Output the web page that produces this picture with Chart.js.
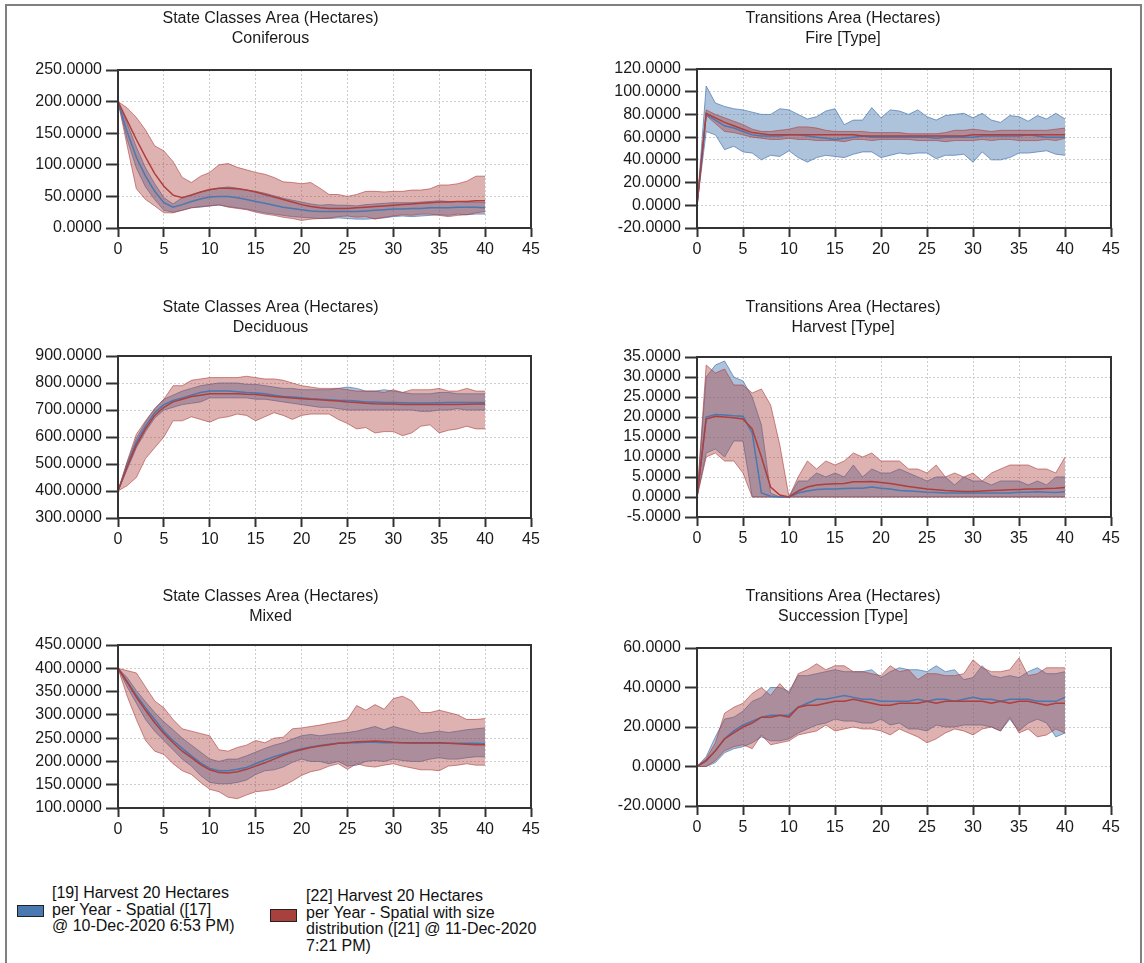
<!DOCTYPE html>
<html><head><meta charset="utf-8">
<script src="https://cdn.jsdelivr.net/npm/chart.js@4.4.0/dist/chart.umd.min.js"></script>
<style>
html,body{margin:0;padding:0;background:#fff;width:1144px;height:963px;overflow:hidden;font-family:"Liberation Sans",Arial,sans-serif;}
#frame{position:absolute;left:5px;top:4px;width:1137px;height:1000px;border:2px solid #808080;box-sizing:border-box;}
canvas{position:absolute;}
.leg{position:absolute;font-size:16px;line-height:16.5px;color:#111;white-space:nowrap;}
.box{position:absolute;border:1px solid #222;box-sizing:border-box;}
</style></head><body>
<div id="frame"></div>
<div id="charts"></div>
<div class="box" id="box0"></div><div class="leg" id="leg0"></div>
<div class="box" id="box1"></div><div class="leg" id="leg1"></div>
<script>
const years = [0,1,2,3,4,5,6,7,8,9,10,11,12,13,14,15,16,17,18,19,20,21,22,23,24,25,26,27,28,29,30,31,32,33,34,35,36,37,38,39,40];

const seriesLegendLines = [
  ['[19] Harvest 20 Hectares', 'per Year - Spatial ([17]', '@ 10-Dec-2020 6:53 PM)'],
  ['[22] Harvest 20 Hectares', 'per Year - Spatial with size', 'distribution ([21] @ 11-Dec-2020', '7:21 PM)']
];

const panelTitles = [
  ['State Classes Area (Hectares)', 'Coniferous'],
  ['Transitions Area (Hectares)', 'Fire [Type]'],
  ['State Classes Area (Hectares)', 'Deciduous'],
  ['Transitions Area (Hectares)', 'Harvest [Type]'],
  ['State Classes Area (Hectares)', 'Mixed'],
  ['Transitions Area (Hectares)', 'Succession [Type]']
];

// y axis ranges: [min, max, step]
const yRanges = [[0,250,50],[-20,120,20],[300,900,100],[-5,35,5],[100,450,50],[-20,60,20]];
const xRange = [0,45,5];

// Coniferous
const coniferousBlueMin  = [200,140,95,65,45,28,25,28,32,33,35,36,34,32,30,27,24,22,20,18,17,16,15,15,16,15,14,14,15,16,18,19,18,19,20,21,20,22,21,22,22];
const coniferousBlueMax  = [200,165,128,95,70,48,38,48,53,57,60,63,65,63,60,58,55,51,47,44,41,38,36,37,36,36,35,37,38,39,40,40,40,41,42,43,42,42,41,41,40];
const coniferousBlueMean = [200,152,112,82,58,40,33,37,42,46,49,50,50,48,45,42,39,36,33,31,29,27,26,26,26,26,26,27,28,29,30,30,31,31,32,32,32,33,33,33,32];
const coniferousRedMin   = [200,130,62,45,35,24,24,28,32,34,35,37,33,31,29,25,22,20,17,15,12,14,15,16,18,19,17,18,14,17,19,21,20,22,22,20,18,20,21,24,26];
const coniferousRedMax   = [200,190,175,155,130,122,105,80,72,82,88,100,102,96,92,88,85,80,73,72,70,72,63,53,53,50,53,58,58,57,58,58,60,60,62,68,68,70,74,82,82];
const coniferousRedMean  = [200,170,140,112,86,66,52,48,52,57,61,63,63,62,60,57,53,49,45,41,37,34,32,31,31,31,32,33,34,35,36,37,38,39,40,41,41,42,42,43,43];

// Fire
const fireBlueMin  = [0,65,62,49,52,47,46,40,44,43,48,42,38,42,44,43,42,45,47,47,42,44,46,45,46,46,41,44,44,45,38,47,40,40,42,46,46,47,48,45,44];
const fireBlueMax  = [0,105,90,87,85,84,82,80,80,85,84,80,76,78,83,85,71,75,75,86,77,84,83,80,84,78,75,79,80,81,77,81,75,73,79,78,74,79,76,81,76];
const fireBlueMean = [0,80,75,70,68,65,62,61,61,61,62,62,61,60,59,58,59,60,61,60,60,60,60,60,60,60,59,60,60,60,60,61,61,61,61,61,62,61,60,60,60];
const fireRedMin   = [0,79,72,65,64,62,60,59,58,58,59,58,58,57,57,57,56,58,58,57,58,58,58,58,57,57,57,56,57,57,57,58,57,58,58,57,57,57,58,57,59];
const fireRedMax   = [0,84,80,77,74,71,67,65,65,66,67,69,69,68,66,65,65,65,65,64,64,64,64,63,63,63,63,64,66,66,67,66,65,66,66,66,66,66,66,67,68];
const fireRedMean  = [0,81,77,73,70,67,64,63,62,62,62,62,62,62,62,62,62,62,61,61,61,61,61,61,61,61,61,61,61,61,62,62,62,62,62,62,62,62,62,62,62];

// Deciduous
const deciduousBlueMin  = [400,480,560,620,670,700,710,720,725,730,745,745,745,745,745,740,740,735,730,725,720,715,710,710,705,700,700,700,700,700,700,700,700,695,695,700,700,705,700,700,700];
const deciduousBlueMax  = [400,505,595,655,705,740,755,770,780,790,795,800,800,800,795,795,790,785,780,780,775,775,775,775,780,785,780,770,770,775,770,765,760,760,760,765,765,760,760,760,760];
const deciduousBlueMean = [400,495,580,640,690,720,735,745,755,765,770,770,770,768,765,763,760,755,750,748,745,742,740,738,736,735,733,730,730,728,728,727,726,726,726,727,728,728,728,728,728];
const deciduousRedMin   = [400,420,450,520,560,600,660,660,675,665,655,670,675,685,680,660,675,690,680,665,680,685,685,685,665,650,630,635,615,620,620,605,615,640,645,615,625,630,640,630,630];
const deciduousRedMax   = [400,510,610,660,705,740,790,790,810,815,820,820,820,820,825,820,815,815,810,800,790,785,780,780,780,775,770,770,770,765,775,765,775,775,775,780,770,770,780,770,770];
const deciduousRedMean  = [400,490,570,630,680,710,730,740,750,755,760,760,760,760,758,757,754,750,747,744,742,740,738,735,733,730,728,725,723,722,722,720,720,720,720,720,720,720,721,722,722];

// Harvest
const harvestBlueMin  = [0,11,12,10,14,14,0,0,0,0,0,0,0,0,0,0,0,0,0,0,0,0,0,0,0,0,0,0,0,0,0,0,0,0,0,0,0,0,0,0,0];
const harvestBlueMax  = [0,30,33,34,30,29,25,18,1,0,0,4,4,6,5,6,5,8,5,7,6,6,7,6,5,4,5,5,3,5,4,4,3,4,4,4,3,4,3,5,5];
const harvestBlueMean = [0,20,20.6,20.5,20.3,20.2,16,1,0.2,0,0,1,1.5,1.9,2,2,2.1,2.2,2.2,2.5,2.2,2,1.6,1.5,1.4,1.2,1.1,1,1,1,1,1,1,1,1,1.2,1.2,1.3,1.2,1.1,1.3];
const harvestRedMin   = [0,10,11,9,9,6,0,0,0,0,0,0,0,0,0,0,0,0,0,0,0,0,0,0,0,0,0,0,0,0,0,0,0,0,0,0,0,0,0,0,0];
const harvestRedMax   = [0,33,31,32,28,28,26,27,23,13,0,5,9,7,9,8,9,11,10,11,9,9,9,7,7,6,8,5,6,5,6,4,6,7,8,8,8,7,7,6,10];
const harvestRedMean  = [0,19.5,20.2,20,19.8,19.5,17,10,2.5,0.5,0,1.5,2.5,3,3.2,3.3,3.4,3.8,3.8,3.9,3.6,3.4,3,2.6,2.3,2,1.8,1.6,1.5,1.4,1.4,1.5,1.6,1.7,1.8,1.9,2,2,2.1,2.2,2.4];

// Mixed
const mixedBlueMin  = [400,360,325,290,265,245,225,205,190,170,155,152,152,155,160,172,180,182,188,198,205,200,200,195,200,190,192,200,202,200,205,202,200,200,205,208,205,205,208,210,210];
const mixedBlueMax  = [400,380,352,328,305,285,268,250,235,220,205,200,205,205,212,220,228,235,240,248,255,258,255,258,260,262,265,270,275,268,275,270,265,260,262,265,262,265,268,270,272];
const mixedBlueMean = [400,372,342,315,290,265,245,228,212,197,185,180,180,183,187,195,203,210,216,222,227,231,234,237,239,240,240,241,241,240,240,240,239,239,239,239,239,239,239,239,238];
const mixedRedMin   = [400,340,290,245,222,215,195,180,172,155,140,135,123,120,128,135,137,140,148,158,170,178,182,190,195,183,195,190,188,192,195,190,186,182,182,180,190,192,195,192,192];
const mixedRedMax   = [400,395,390,360,330,315,290,270,265,260,255,225,222,230,235,245,240,250,252,270,272,275,278,282,285,290,320,310,322,312,335,340,330,305,305,310,305,300,290,290,292];
const mixedRedMean  = [400,370,338,310,283,260,240,222,208,193,182,176,175,178,183,190,197,205,213,220,225,230,233,236,239,240,242,243,244,243,241,240,240,240,240,240,239,238,237,236,236];

// Succession
const successionBlueMin  = [0,0,2,7,9,10,12,15,13,13,14,17,19,21,22,24,23,23,22,22,24,21,22,19,19,18,21,20,20,21,21,21,20,18,24,18,22,24,22,15,17];
const successionBlueMax  = [0,5,15,24,25,28,33,35,40,40,38,46,46,47,48,49,48,48,48,49,45,48,50,49,49,48,51,48,49,44,45,51,46,45,46,45,48,50,47,47,48];
const successionBlueMean = [0,3,8,14,18,21,23,25,26,26,26,30,32,34,34,35,36,35,34,34,33,33,33,33,34,33,34,34,33,34,35,34,34,33,34,34,34,33,33,33,35];
const successionRedMin   = [0,0,3,8,10,11,9,16,11,12,13,16,17,18,21,18,19,20,19,19,18,16,19,17,15,12,14,17,19,18,16,19,20,18,25,17,19,15,16,19,17];
const successionRedMax   = [0,4,12,27,30,32,37,40,36,42,37,47,49,52,49,51,51,48,48,47,46,51,48,49,44,47,47,46,46,47,54,50,48,48,49,55,46,47,50,50,50];
const successionRedMean  = [0,3,8,14,17,20,22,25,25,26,25,30,31,31,32,33,33,34,33,32,31,31,32,32,32,33,32,33,33,33,33,33,32,33,32,33,33,32,31,32,32];

const panelSeries = [
  [coniferousBlueMin, coniferousBlueMax, coniferousBlueMean, coniferousRedMin, coniferousRedMax, coniferousRedMean],
  [fireBlueMin, fireBlueMax, fireBlueMean, fireRedMin, fireRedMax, fireRedMean],
  [deciduousBlueMin, deciduousBlueMax, deciduousBlueMean, deciduousRedMin, deciduousRedMax, deciduousRedMean],
  [harvestBlueMin, harvestBlueMax, harvestBlueMean, harvestRedMin, harvestRedMax, harvestRedMean],
  [mixedBlueMin, mixedBlueMax, mixedBlueMean, mixedRedMin, mixedRedMax, mixedRedMean],
  [successionBlueMin, successionBlueMax, successionBlueMean, successionRedMin, successionRedMax, successionRedMean]
];

// ---- layout / style (not data) ----
const FONT = '"Liberation Sans", Arial, sans-serif';
const TEXT = '#1a1a1a';
const BLUE_LINE = 'rgb(74,120,176)';
const BLUE_EDGE = 'rgba(74,120,176,0.7)';
const BLUE_FILL = 'rgba(74,120,176,0.45)';
const RED_LINE = 'rgb(176,62,60)';
const RED_EDGE = 'rgba(172,62,60,0.6)';
const RED_FILL = 'rgba(172,62,60,0.40)';

const cols = [ {left:10, width:534, plotLeft:118, plotRight:531},
               {left:575, width:566, plotLeft:697, plotRight:1111} ];
const rowsLayout = [
  {titleY:19, top:70, bottom:228}, {titleY:19, top:69, bottom:228},
  {titleY:308, top:356, bottom:518}, {titleY:308, top:357, bottom:517},
  {titleY:597, top:645, bottom:808}, {titleY:597, top:648, bottom:806}
];
const X_AXIS_H = 34;

Chart.defaults.font.family = FONT;
Chart.defaults.font.size = 16;
Chart.defaults.color = TEXT;

const framePlugin = {
  id: 'plotFrame',
  afterDatasetsDraw(chart) {
    const {ctx, chartArea: a} = chart;
    ctx.save();
    ctx.strokeStyle = '#333';
    ctx.lineWidth = 2;
    ctx.strokeRect(a.left, a.top, a.right - a.left, a.bottom - a.top);
    ctx.restore();
  }
};

const holder = document.getElementById('charts');
panelTitles.forEach((title, i) => {
  const col = cols[i % 2];
  const L = rowsLayout[i];
  const T = L.titleY - 11;
  const H = L.bottom + X_AXIS_H - T;
  const cv = document.createElement('canvas');
  cv.width = col.width; cv.height = H;
  cv.style.left = col.left + 'px'; cv.style.top = T + 'px';
  cv.style.width = col.width + 'px'; cv.style.height = H + 'px';
  holder.appendChild(cv);
  const s = panelSeries[i];
  const [ymin, ymax, ystep] = yRanges[i];
  const yAxisW = col.plotLeft - col.left;
  const padR = col.left + col.width - col.plotRight;
  const titlePadBottom = L.top - T - 1.4 - 38.4;
  const band = (data, edge, fillColor, fill, order) => ({
    data, borderColor: edge, borderWidth: 1, pointRadius: 0, tension: 0,
    fill: fill, backgroundColor: fillColor, order
  });
  new Chart(cv, {
    type: 'line',
    data: {
      labels: years,
      datasets: [
        band(s[0], BLUE_EDGE, BLUE_FILL, false, 4),
        band(s[1], BLUE_EDGE, BLUE_FILL, '-1', 4),
        band(s[3], RED_EDGE, RED_FILL, false, 3),
        band(s[4], RED_EDGE, RED_FILL, '-1', 3),
        {data: s[2], borderColor: BLUE_LINE, borderWidth: 1.5, pointRadius: 0, fill: false, order: 2},
        {data: s[5], borderColor: RED_LINE, borderWidth: 1.5, pointRadius: 0, fill: false, order: 1}
      ]
    },
    options: {
      responsive: false, animation: false, events: [],
      devicePixelRatio: 1,
      layout: {padding: {left: 0, right: padR, top: 0, bottom: 0}},
      plugins: {
        legend: {display: false},
        tooltip: {enabled: false},
        title: {display: true, text: title, color: TEXT,
                font: {size: 16, weight: 'normal', lineHeight: 1.2},
                padding: {top: 1.4, bottom: titlePadBottom}}
      },
      scales: {
        x: {
          type: 'linear', min: xRange[0], max: xRange[1],
          ticks: {stepSize: xRange[2], color: TEXT, padding: 3, maxRotation: 0, autoSkip: false, font: {size: 16}},
          grid: {color: '#cdcdcd', lineWidth: 1, tickColor: '#333', tickLength: 9, tickWidth: 2},
          border: {display: false, dash: [2, 2]},
          afterFit: (sc) => { sc.height = X_AXIS_H; }
        },
        y: {
          min: ymin, max: ymax,
          ticks: {stepSize: ystep, color: TEXT, padding: 4, autoSkip: false, font: {size: 16},
                  callback: (v) => Number(v).toFixed(4)},
          grid: {color: '#cdcdcd', lineWidth: 1, tickColor: '#333', tickLength: 12, tickWidth: 2},
          border: {display: false, dash: [2, 2]},
          afterFit: (sc) => { sc.width = yAxisW; }
        }
      }
    },
    plugins: [framePlugin]
  });
});

// legend (HTML text)
const legendLayout = [
  {box: {left: 17, top: 905, w: 27, h: 12, color: BLUE_LINE}, text: {left: 52, top: 885}},
  {box: {left: 270, top: 909, w: 27, h: 13, color: 'rgb(168,64,62)'}, text: {left: 306, top: 888}}
];
seriesLegendLines.forEach((lines, k) => {
  const lg = legendLayout[k];
  const b = document.getElementById('box' + k);
  b.style.left = lg.box.left + 'px'; b.style.top = lg.box.top + 'px';
  b.style.width = lg.box.w + 'px'; b.style.height = lg.box.h + 'px';
  b.style.background = lg.box.color;
  const t = document.getElementById('leg' + k);
  t.style.left = lg.text.left + 'px'; t.style.top = lg.text.top + 'px';
  t.innerHTML = lines.map(l => l.replace(/&/g,'&amp;').replace(/</g,'&lt;')).join('<br>');
});
</script>
</body></html>
